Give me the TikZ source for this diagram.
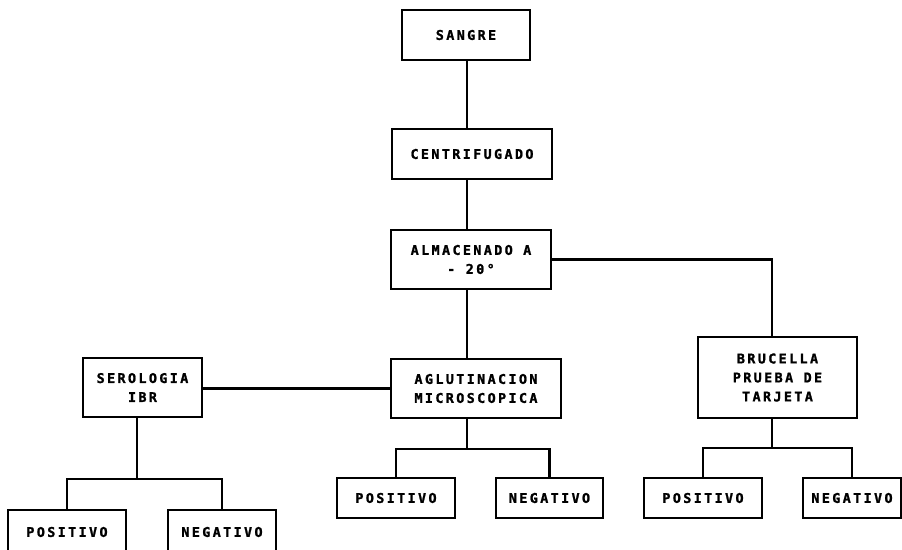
\documentclass[tikz,border=0pt]{standalone}
\usepackage{fontspec}
\newfontfamily\boxfont{DejaVu Sans Mono Bold}[LetterSpace=18, FakeBold=1.5]
\usetikzlibrary{positioning,calc}

\tikzset{
  box/.style={draw, line width=1.5pt, align=center, inner sep=0pt,
    font=\boxfont\fontsize{9.5}{13.5}\selectfont},
}

\begin{document}
\begin{tikzpicture}[x=0.025cm, y=-0.025cm, line width=1.5pt]
    \clip (0,0) rectangle (902,549);

    % Main column
    \node[box, minimum width=3.22cm, minimum height=1.27cm] (sangre) at (466,35) {SANGRE};
    \node[box, minimum width=4cm, minimum height=1.25cm] (cent) at (472,154) {CENTRIFUGADO};
    \node[box, minimum width=4cm, minimum height=1.47cm] (alm) at (471,259.5) {ALMACENADO A\\- 20°};
    \node[box, minimum width=4.25cm, minimum height=1.47cm] (aglu) at (476,388.5) {AGLUTINACION\\MICROSCOPICA};

    % Side tests
    \node[box, minimum width=2.97cm, minimum height=1.47cm] (sero) at (142.5,387.5) {SEROLOGIA\\IBR};
    \node[box, minimum width=3.97cm, minimum height=2.02cm] (bruc) at (777.5,377.5) {BRUCELLA\\PRUEBA DE\\TARJETA};

    % Results
    \node[box, minimum width=2.95cm, minimum height=1.12cm] (pos1) at (67,532) {POSITIVO};
    \node[box, minimum width=2.7cm, minimum height=1.12cm] (neg1) at (222,532) {NEGATIVO};
    \node[box, minimum width=2.95cm, minimum height=1cm] (pos2) at (396,498) {POSITIVO};
    \node[box, minimum width=2.67cm, minimum height=1cm] (neg2) at (549.5,498) {NEGATIVO};
    \node[box, minimum width=2.95cm, minimum height=1cm] (pos3) at (703,498) {POSITIVO};
    \node[box, minimum width=2.45cm, minimum height=1cm] (neg3) at (852,498) {NEGATIVO};

    % Connectors
    \coordinate (spine) at (467,0);
    \coordinate (f1) at (137,479);
    \coordinate (f2) at (467,449);
    \coordinate (f3) at (772,448);

    \draw (spine |- sangre.south) -- (spine |- cent.north);
    \draw (spine |- cent.south) -- (spine |- alm.north);
    \draw (spine |- alm.south) -- (spine |- aglu.north);
    \draw (alm.east) -| (f3 |- bruc.north);
    \draw (aglu.west) -- (aglu.west -| sero.east);

    \draw (f1 |- sero.south) -- (f1);
    \draw (pos1.north) |- (f1) -| (neg1.north);
    \draw (f2 |- aglu.south) -- (f2);
    \draw (pos2.north) |- (f2) -| (neg2.north);
    \draw (f3 |- bruc.south) -- (f3);
    \draw (pos3.north) |- (f3) -| (neg3.north);
\end{tikzpicture}
\end{document}
